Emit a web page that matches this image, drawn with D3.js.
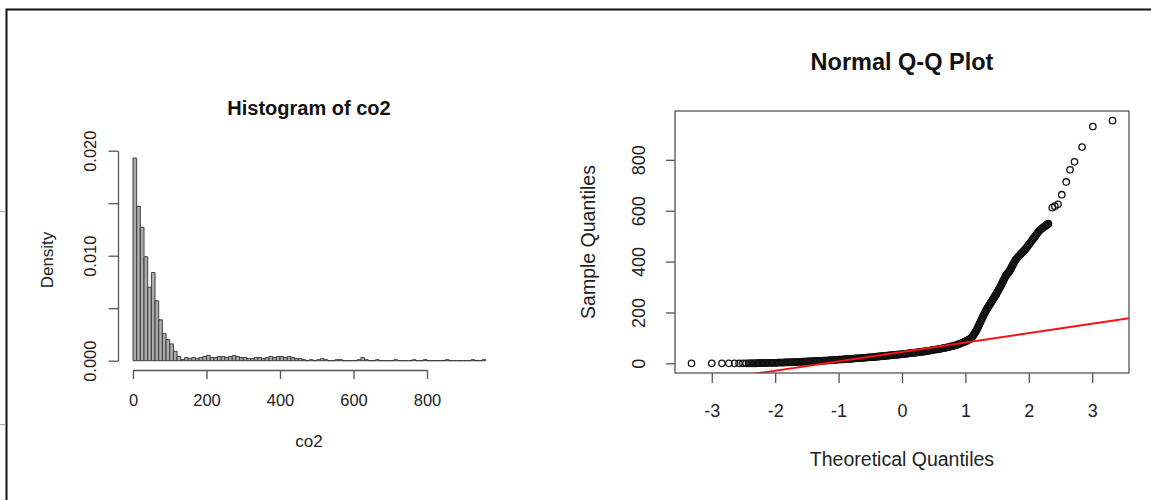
<!DOCTYPE html>
<html>
<head>
<meta charset="utf-8">
<script src="https://cdn.jsdelivr.net/npm/d3@7"></script>
<style>
  body { margin: 0; background: #fff; }
  svg { display: block; font-family: "Liberation Sans", Arial, sans-serif; }
</style>
</head>
<body>
<div id="chart"></div>
<script>
// ---- histogram of co2 (density per bin of width 10, from 0 to 960)
const binWidth = 10;
const histDensity = [
  0.0193, 0.0147, 0.0127, 0.0099, 0.0070, 0.0084, 0.0057, 0.0039, 0.0026, 0.0020,
  0.0016, 0.0009, 0.0004, 0.0001,
  0.0003, 0.0002, 0.0003, 0.0002, 0.0003, 0.0004, 0.0005, 0.0003, 0.0003, 0.0004,
  0.0004, 0.0003, 0.0004, 0.0005, 0.0004, 0.0003, 0.0003, 0.0002, 0.0002, 0.0003,
  0.0003, 0.0002, 0.0003, 0.0004, 0.0003, 0.0004, 0.0004, 0.0003, 0.0004, 0.0003,
  0.0002, 0.0002,
  0.0001, 0, 0.0001, 0, 0.0001, 0.0002, 0.0001, 0, 0, 0.0001, 0.0001, 0, 0, 0, 0,
  0.0001, 0.0003, 0.0001, 0, 0, 0.0001, 0, 0, 0, 0, 0.0001, 0, 0, 0, 0,
  0.0001, 0, 0, 0.0001, 0, 0, 0, 0, 0, 0.0001, 0, 0, 0, 0, 0, 0, 0.0001, 0, 0, 0.0001
];
const histXTicks = [0, 200, 400, 600, 800];
const histYTicks = [0, 0.005, 0.010, 0.015, 0.020];
const histYLabelled = [0, 0.010, 0.020];

// ---- normal Q-Q plot of co2: theoretical quantiles and sample quantiles
const qqTheoretical = [
  -3.32, -3.00, -2.84, -2.73, -2.64, -2.57, -2.51, -2.46, -2.42,
  -2.40, -2.38, -2.36, -2.34, -2.32, -2.30, -2.28, -2.26, -2.24, -2.22,
  -2.20, -2.18, -2.16, -2.14, -2.12, -2.10, -2.08, -2.06, -2.04, -2.02,
  -2.00, -1.98, -1.96, -1.94, -1.92, -1.90, -1.88, -1.86, -1.84, -1.82,
  -1.80, -1.78, -1.76, -1.74, -1.72, -1.70, -1.68, -1.66, -1.64, -1.62,
  -1.60, -1.58, -1.56, -1.54, -1.52, -1.50, -1.48, -1.46, -1.44, -1.42,
  -1.40, -1.38, -1.36, -1.34, -1.32, -1.30, -1.28, -1.26, -1.24, -1.22,
  -1.20, -1.18, -1.16, -1.14, -1.12, -1.10, -1.08, -1.06, -1.04, -1.02,
  -1.00, -0.98, -0.96, -0.94, -0.92, -0.90, -0.88, -0.86, -0.84, -0.82,
  -0.80, -0.78, -0.76, -0.74, -0.72, -0.70, -0.68, -0.66, -0.64, -0.62,
  -0.60, -0.58, -0.56, -0.54, -0.52, -0.50, -0.48, -0.46, -0.44, -0.42,
  -0.40, -0.38, -0.36, -0.34, -0.32, -0.30, -0.28, -0.26, -0.24, -0.22,
  -0.20, -0.18, -0.16, -0.14, -0.12, -0.10, -0.08, -0.06, -0.04, -0.02,
  0.00, 0.02, 0.04, 0.06, 0.08, 0.10, 0.12, 0.14, 0.16, 0.18,
  0.20, 0.22, 0.24, 0.26, 0.28, 0.30, 0.32, 0.34, 0.36, 0.38,
  0.40, 0.42, 0.44, 0.46, 0.48, 0.50, 0.52, 0.54, 0.56, 0.58,
  0.60, 0.62, 0.64, 0.66, 0.68, 0.70, 0.72, 0.74, 0.76, 0.78,
  0.80, 0.82, 0.84, 0.86, 0.88, 0.90, 0.92, 0.94, 0.96, 0.98,
  1.00, 1.02, 1.04, 1.06, 1.08,
  1.10, 1.11, 1.12, 1.13, 1.14, 1.15, 1.16, 1.17, 1.18, 1.19,
  1.20, 1.21, 1.22, 1.23, 1.24, 1.25, 1.26, 1.27, 1.28, 1.29,
  1.30, 1.31, 1.32, 1.33, 1.34, 1.35, 1.36, 1.37, 1.38, 1.39,
  1.40, 1.41, 1.42, 1.43, 1.44, 1.45, 1.46, 1.47, 1.48, 1.49,
  1.50, 1.51, 1.52, 1.53, 1.54, 1.55, 1.56, 1.57, 1.58, 1.59,
  1.60, 1.61, 1.62, 1.63, 1.64, 1.65, 1.66, 1.67, 1.68, 1.69,
  1.70, 1.71, 1.72, 1.73, 1.74, 1.75, 1.76, 1.77, 1.78, 1.79,
  1.80,
  1.815, 1.830, 1.845, 1.860, 1.875, 1.890, 1.905, 1.920, 1.935, 1.950,
  1.965, 1.980, 1.995, 2.010, 2.025, 2.040, 2.055, 2.070, 2.085, 2.100,
  2.115, 2.130, 2.145, 2.160, 2.175, 2.190, 2.205, 2.220, 2.235, 2.250,
  2.265, 2.280, 2.295, 2.310,
  2.37, 2.41, 2.46, 2.52, 2.59, 2.65, 2.72, 2.84, 3.01, 3.32
];
const qqSample = [
  0, 0, 0, 0, 0, 0, 0, 0, 0,
  0, 0, 0, 0, 0, 0, 1, 1, 1, 1,
  1, 1, 1, 1, 2, 2, 2, 2, 2, 2,
  2, 2, 3, 3, 3, 3, 3, 3, 4, 4,
  4, 4, 4, 4, 5, 5, 5, 5, 6, 6,
  6, 6, 7, 7, 7, 7, 8, 8, 8, 8,
  9, 9, 9, 9, 10, 10, 10, 10, 11, 11,
  11, 11, 12, 12, 13, 13, 13, 13, 14, 14,
  15, 15, 15, 15, 16, 16, 17, 17, 17, 17,
  18, 18, 19, 19, 20, 20, 20, 20, 21, 21,
  22, 22, 23, 23, 24, 24, 24, 24, 25, 25,
  26, 26, 27, 27, 28, 28, 29, 29, 30, 30,
  31, 31, 32, 32, 33, 33, 34, 34, 35, 35,
  36, 36, 37, 37, 38, 39, 40, 40, 41, 41,
  42, 42, 43, 44, 45, 45, 46, 46, 47, 48,
  49, 49, 50, 51, 52, 53, 54, 54, 55, 56,
  57, 58, 59, 60, 61, 62, 63, 64, 66, 67,
  68, 69, 71, 72, 74, 76, 78, 80, 82, 84,
  86, 88, 91, 94, 97,
  102, 105, 108, 112, 116, 120, 124, 128, 133, 138,
  143, 148, 154, 159, 164, 170, 175, 180, 186, 191,
  196, 200, 205, 210, 214, 218, 222, 226, 230, 234,
  238, 242, 246, 250, 254, 258, 262, 266, 270, 274,
  279, 283, 288, 292, 297, 301, 306, 311, 316, 321,
  326, 331, 336, 341, 345, 349, 352, 355, 358, 361,
  365, 369, 374, 379, 384, 388, 393, 397, 402, 406,
  410,
  414, 418, 422, 426, 430, 434, 438, 442, 446, 450,
  455, 460, 465, 470, 475, 480, 485, 490, 495, 500,
  505, 510, 515, 520, 524, 527, 530, 533, 536, 538,
  541, 544, 547, 549,
  612, 618, 625, 663, 713, 761, 792, 850, 931, 954
];
const qqLine = { intercept: 44.9, slope: 36.9 };
const qqXLim = [-3.58, 3.58];
const qqYLim = [-38, 992];
const qqXTicks = [-3, -2, -1, 0, 1, 2, 3];
const qqYTicks = [0, 200, 400, 600, 800];

if (qqTheoretical.length !== qqSample.length) console.error("qq arrays differ in length");

const W = 1151, H = 500;
const textCol = "#222", axisCol = "#555";

const svg = d3.select("#chart").append("svg")
  .attr("width", W)
  .attr("height", H);

svg.append("rect").attr("width", W).attr("height", H).attr("fill", "#fff");

// screenshot frame
svg.append("path")
  .attr("d", `M6.5,${H} V9.5 H${W}`)
  .attr("fill", "none")
  .attr("stroke", "#111")
  .attr("stroke-width", 2);
[211, 424].forEach(yy => {
  svg.append("line")
    .attr("x1", 0).attr("x2", 5)
    .attr("y1", yy + 0.5).attr("y2", yy + 0.5)
    .attr("stroke", "#aaa");
});

// ================= Histogram =================
const hx = d3.scaleLinear().domain([0, 800]).range([133, 427]);
const hy = d3.scaleLinear().domain([0, 0.020]).range([360.7, 150.7]);

const hist = svg.append("g");

hist.selectAll("path.bar")
  .data(histDensity)
  .enter().append("path")
    .attr("class", "bar")
    .attr("d", (d, i) => {
      const x0 = hx(i * binWidth), x1 = hx((i + 1) * binWidth);
      return `M${x0},${hy(0)} V${hy(d)} H${x1} V${hy(0)} Z`;
    })
    .attr("fill", "#ababab")
    .attr("stroke", "#333")
    .attr("stroke-width", 0.9);

// x axis
const hxAxis = hist.append("g")
  .attr("transform", "translate(0,370)")
  .call(d3.axisBottom(hx).tickValues(histXTicks).tickSize(9).tickSizeOuter(0).tickPadding(10)
    .tickFormat(d3.format("d")));
hxAxis.select(".domain").attr("stroke", axisCol).attr("stroke-width", 1.3);
hxAxis.selectAll(".tick line").attr("stroke", axisCol).attr("stroke-width", 1.3);
hxAxis.selectAll("text")
  .attr("fill", textCol)
  .style("font-size", "16.5px")
  .attr("y", 36).attr("dy", 0);

// y axis
const hyAxis = hist.append("g")
  .attr("transform", "translate(118,0)")
  .call(d3.axisLeft(hy).tickValues(histYTicks).tickSize(9.5).tickSizeOuter(0)
    .tickFormat(d => histYLabelled.includes(d) ? d3.format(".3f")(d) : ""));
hyAxis.select(".domain").attr("stroke", axisCol).attr("stroke-width", 1.3);
hyAxis.selectAll(".tick line").attr("stroke", axisCol).attr("stroke-width", 1.3);
hyAxis.selectAll("text")
  .attr("fill", textCol)
  .style("font-size", "16.5px")
  .attr("transform", "rotate(-90)")
  .attr("x", 0).attr("y", -22).attr("dy", 0)
  .attr("text-anchor", "middle");

// titles
hist.append("text")
  .attr("x", 309).attr("y", 115)
  .attr("text-anchor", "middle")
  .attr("fill", "#111")
  .style("font-size", "20px").style("font-weight", "bold")
  .text("Histogram of co2");

hist.append("text")
  .attr("x", 309).attr("y", 447)
  .attr("text-anchor", "middle")
  .attr("fill", textCol)
  .style("font-size", "17px")
  .text("co2");

hist.append("text")
  .attr("transform", "translate(52.5,260) rotate(-90)")
  .attr("text-anchor", "middle")
  .attr("fill", textCol)
  .style("font-size", "17px")
  .text("Density");

// ================= Normal Q-Q plot =================
const box = { left: 675, right: 1129, top: 111, bottom: 373 };
const qx = d3.scaleLinear().domain(qqXLim).range([box.left, box.right]);
const qy = d3.scaleLinear().domain(qqYLim).range([box.bottom, box.top]);

const qq = svg.append("g");

svg.append("defs").append("clipPath").attr("id", "qqclip")
  .append("rect")
    .attr("x", box.left).attr("y", box.top)
    .attr("width", box.right - box.left).attr("height", box.bottom - box.top);

// points
qq.selectAll("circle")
  .data(qqSample)
  .enter().append("circle")
    .attr("cx", (d, i) => qx(qqTheoretical[i]))
    .attr("cy", d => qy(d))
    .attr("r", 3.2)
    .attr("fill", "none")
    .attr("stroke", "#111")
    .attr("stroke-width", 1.3);

// reference line
const lineX = qqXLim;
qq.append("path")
  .datum(lineX)
  .attr("clip-path", "url(#qqclip)")
  .attr("d", d3.line()
    .x(d => qx(d))
    .y(d => qy(qqLine.intercept + qqLine.slope * d)))
  .attr("fill", "none")
  .attr("stroke", "#ff1010")
  .attr("stroke-width", 2);

// box
qq.append("rect")
  .attr("x", box.left).attr("y", box.top)
  .attr("width", box.right - box.left).attr("height", box.bottom - box.top)
  .attr("fill", "none")
  .attr("stroke", axisCol)
  .attr("stroke-width", 1.3);

// axes
const qxAxis = qq.append("g")
  .attr("transform", `translate(0,${box.bottom})`)
  .call(d3.axisBottom(qx).tickValues(qqXTicks).tickSize(10).tickSizeOuter(0)
    .tickFormat(d3.format("d")));
qxAxis.select(".domain").remove();
qxAxis.selectAll(".tick line").attr("stroke", axisCol).attr("stroke-width", 1.3);
qxAxis.selectAll("text")
  .text(d => d < 0 ? "-" + Math.abs(d) : d)
  .attr("fill", textCol)
  .style("font-size", "18px")
  .attr("y", 44).attr("dy", 0);

const qyAxis = qq.append("g")
  .attr("transform", `translate(${box.left},0)`)
  .call(d3.axisLeft(qy).tickValues(qqYTicks).tickSize(9).tickSizeOuter(0)
    .tickFormat(d3.format("d")));
qyAxis.select(".domain").remove();
qyAxis.selectAll(".tick line").attr("stroke", axisCol).attr("stroke-width", 1.3);
qyAxis.selectAll("text")
  .attr("fill", textCol)
  .style("font-size", "18px")
  .attr("transform", "rotate(-90)")
  .attr("x", 0).attr("y", -30).attr("dy", 0)
  .attr("text-anchor", "middle");

qq.append("text")
  .attr("x", 902).attr("y", 70)
  .attr("text-anchor", "middle")
  .attr("fill", "#111")
  .style("font-size", "23.5px").style("font-weight", "bold")
  .text("Normal Q-Q Plot");

qq.append("text")
  .attr("x", 902).attr("y", 466)
  .attr("text-anchor", "middle")
  .attr("fill", textCol)
  .style("font-size", "19.5px")
  .text("Theoretical Quantiles");

qq.append("text")
  .attr("transform", "translate(595,242) rotate(-90)")
  .attr("text-anchor", "middle")
  .attr("fill", textCol)
  .style("font-size", "19.5px")
  .text("Sample Quantiles");
</script>
</body>
</html>
